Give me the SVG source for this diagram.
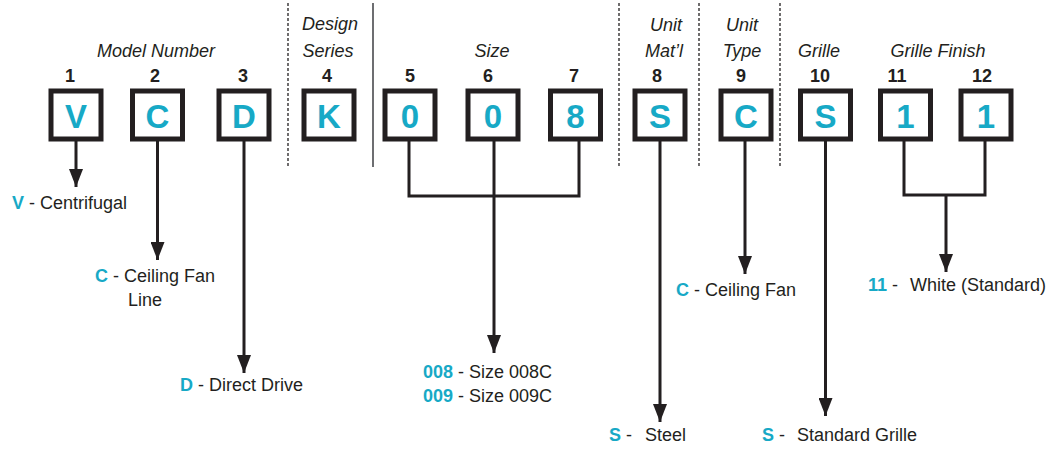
<svg xmlns="http://www.w3.org/2000/svg" width="1051" height="451" viewBox="0 0 1051 451">
<style>
.box{fill:#fff;stroke:#231f20;stroke-width:5}
.let{font-family:"Liberation Sans",Arial,sans-serif;font-weight:bold;font-size:33px;fill:#17a9c6;text-anchor:middle}
.num{font-family:"Liberation Sans",Arial,sans-serif;font-weight:bold;font-size:18px;fill:#231f20;text-anchor:middle}
.hdr{font-family:"Liberation Sans",Arial,sans-serif;font-style:italic;font-size:18px;fill:#231f20;text-anchor:middle}
.desc{font-family:"Liberation Sans",Arial,sans-serif;font-size:18px;fill:#231f20}
.code{font-weight:bold;fill:#17a9c6}
.ln{fill:none;stroke:#231f20;stroke-width:3}
.arr{fill:none;stroke:#231f20;stroke-width:3;marker-end:url(#ah)}
.dash{stroke:#231f20;stroke-width:1.3;stroke-dasharray:3 2}
</style>
<defs>
<marker id="ah" markerUnits="userSpaceOnUse" markerWidth="18" markerHeight="14" refX="18" refY="7" orient="auto">
<path d="M0,0 L18,7 L0,14 z" fill="#231f20"/>
</marker>
</defs>
<g id="separators">
<line class="dash" x1="288" y1="3" x2="288" y2="167"/>
<line x1="373" y1="3" x2="373" y2="167" stroke="#6d6e71" stroke-width="2"/>
<line class="dash" x1="619" y1="3" x2="619" y2="166"/>
<line class="dash" x1="699" y1="3" x2="699" y2="166"/>
<line class="dash" x1="780" y1="3" x2="780" y2="166"/>
</g>
<g id="headers">
<text class="hdr" x="156" y="57">Model Number</text>
<text class="hdr" x="330" y="30">Design</text>
<text class="hdr" x="328" y="57">Series</text>
<text class="hdr" x="492" y="57">Size</text>
<text class="hdr" x="666" y="31">Unit</text>
<text class="hdr" x="664" y="57">Mat’l</text>
<text class="hdr" x="742" y="31">Unit</text>
<text class="hdr" x="742" y="57">Type</text>
<text class="hdr" x="819" y="57">Grille</text>
<text class="hdr" x="938" y="57">Grille Finish</text>
</g>
<g id="connectors">
<line class="arr" x1="76" y1="141" x2="76" y2="187"/>
<line class="arr" x1="157.5" y1="141" x2="157.5" y2="260"/>
<line class="arr" x1="244" y1="141" x2="244" y2="373"/>
<polyline class="ln" points="409,141 409,196 579,196 579,141"/>
<line class="arr" x1="494" y1="141" x2="494" y2="353"/>
<line class="arr" x1="660" y1="141" x2="660" y2="422"/>
<line class="arr" x1="745" y1="141" x2="745" y2="274"/>
<line class="arr" x1="825.5" y1="141" x2="825.5" y2="416"/>
<polyline class="ln" points="904,141 904,195 985,195 985,141"/>
<line class="arr" x1="946" y1="195" x2="946" y2="272"/>
</g>
<g id="node1"><text class="num" x="70" y="82">1</text><rect class="box" x="51" y="91" width="50" height="48"/><text class="let" x="76" y="128">V</text></g>
<g id="node2"><text class="num" x="155" y="82">2</text><rect class="box" x="132.5" y="91" width="50" height="48"/><text class="let" x="157.5" y="128">C</text></g>
<g id="node3"><text class="num" x="243" y="82">3</text><rect class="box" x="219" y="91" width="50" height="48"/><text class="let" x="244" y="128">D</text></g>
<g id="node4"><text class="num" x="327" y="82">4</text><rect class="box" x="304" y="91" width="50" height="48"/><text class="let" x="329" y="128">K</text></g>
<g id="node5"><text class="num" x="410" y="82">5</text><rect class="box" x="385" y="91" width="50" height="48"/><text class="let" x="410" y="128">0</text></g>
<g id="node6"><text class="num" x="488" y="82">6</text><rect class="box" x="468" y="91" width="50" height="48"/><text class="let" x="493" y="128">0</text></g>
<g id="node7"><text class="num" x="574" y="82">7</text><rect class="box" x="550.5" y="91" width="50" height="48"/><text class="let" x="575.5" y="128">8</text></g>
<g id="node8"><text class="num" x="657" y="82">8</text><rect class="box" x="635" y="91" width="50" height="48"/><text class="let" x="660" y="128">S</text></g>
<g id="node9"><text class="num" x="741" y="82">9</text><rect class="box" x="721" y="91" width="50" height="48"/><text class="let" x="746" y="128">C</text></g>
<g id="node10"><text class="num" x="820" y="82">10</text><rect class="box" x="800.5" y="91" width="50" height="48"/><text class="let" x="825.5" y="128">S</text></g>
<g id="node11"><text class="num" x="897" y="82">11</text><rect class="box" x="880.5" y="91" width="50" height="48"/><text class="let" x="905.5" y="128">1</text></g>
<g id="node12"><text class="num" x="982" y="82">12</text><rect class="box" x="961" y="91" width="50" height="48"/><text class="let" x="986" y="128">1</text></g>
<g id="descriptions">
<text class="desc" x="12" y="209"><tspan class="code">V</tspan> - Centrifugal</text>
<text class="desc" x="95" y="282"><tspan class="code">C</tspan> - Ceiling Fan</text>
<text class="desc" x="128" y="306">Line</text>
<text class="desc" x="180" y="391"><tspan class="code">D</tspan> - Direct Drive</text>
<text class="desc" x="423" y="378"><tspan class="code">008</tspan> - Size 008C</text>
<text class="desc" x="423" y="402"><tspan class="code">009</tspan> - Size 009C</text>
<text class="desc" x="609" y="441"><tspan class="code">S</tspan> - <tspan x="645">Steel</tspan></text>
<text class="desc" x="676" y="296"><tspan class="code">C</tspan> - Ceiling Fan</text>
<text class="desc" x="762" y="441"><tspan class="code">S</tspan> - <tspan x="797">Standard Grille</tspan></text>
<text class="desc" x="868" y="291"><tspan class="code">11</tspan> - <tspan x="910">White (Standard)</tspan></text>
</g>
</svg>
